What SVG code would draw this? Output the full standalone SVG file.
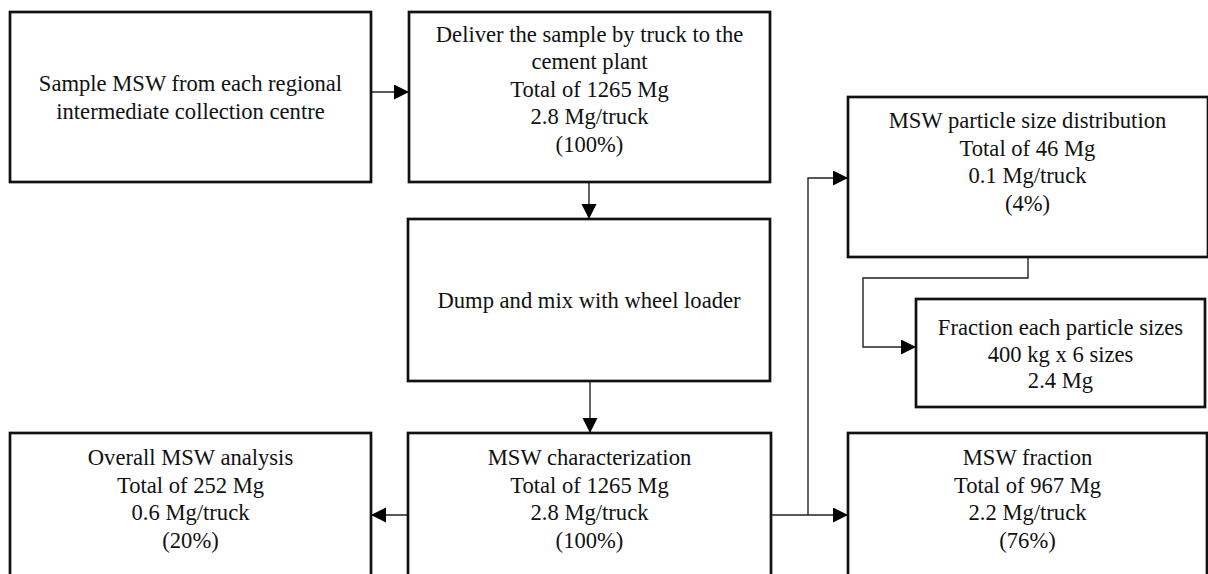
<svg xmlns="http://www.w3.org/2000/svg" width="1208" height="574" viewBox="0 0 1208 574">
<style>
.box{fill:#fff;stroke:#111;stroke-width:2.7}
.t{font-family:"Liberation Serif","Times New Roman",serif;font-size:22.6px;fill:#111;text-anchor:middle}
.c{fill:none;stroke:#222;stroke-width:1.4}
</style>
<defs>
<marker id="ah" markerUnits="userSpaceOnUse" markerWidth="16" markerHeight="16" refX="15" refY="7.5" orient="auto">
<path d="M0,0 L15,7.5 L0,15 z" fill="#000"/>
</marker>
</defs>
<rect width="1208" height="574" fill="#fff"/>
<g id="connectors">
<line class="c" x1="371" y1="92" x2="409" y2="92" marker-end="url(#ah)"/>
<line class="c" x1="589" y1="182" x2="589" y2="219" marker-end="url(#ah)"/>
<line class="c" x1="590" y1="381" x2="590" y2="433" marker-end="url(#ah)"/>
<line class="c" x1="408" y1="515" x2="371" y2="515" marker-end="url(#ah)"/>
<line class="c" x1="771" y1="515" x2="848" y2="515" marker-end="url(#ah)"/>
<polyline class="c" points="808,515 808,178 848,178" marker-end="url(#ah)"/>
<polyline class="c" points="1028,257 1028,278 863,278 863,347 916,347" marker-end="url(#ah)"/>
</g>
<g id="n1">
<rect class="box" x="10" y="12" width="361" height="170"/>
<text class="t" x="190.5" y="91">Sample MSW from each regional</text>
<text class="t" x="190.5" y="118.5">intermediate collection centre</text>
</g>
<g id="n2">
<rect class="box" x="409" y="12" width="361" height="170"/>
<text class="t" x="589.5" y="41.5">Deliver the sample by truck to the</text>
<text class="t" x="589.5" y="69">cement plant</text>
<text class="t" x="589.5" y="96.5">Total of 1265 Mg</text>
<text class="t" x="589.5" y="124">2.8 Mg/truck</text>
<text class="t" x="589.5" y="151.5">(100%)</text>
</g>
<g id="n3">
<rect class="box" x="408" y="219" width="362" height="162"/>
<text class="t" x="589" y="308">Dump and mix with wheel loader</text>
</g>
<g id="n4">
<rect class="box" x="408" y="433" width="363" height="160"/>
<text class="t" x="589.5" y="465">MSW characterization</text>
<text class="t" x="589.5" y="492.5">Total of 1265 Mg</text>
<text class="t" x="589.5" y="520">2.8 Mg/truck</text>
<text class="t" x="589.5" y="547.5">(100%)</text>
</g>
<g id="n5">
<rect class="box" x="10" y="433" width="361" height="160"/>
<text class="t" x="190.5" y="465">Overall MSW analysis</text>
<text class="t" x="190.5" y="492.5">Total of 252 Mg</text>
<text class="t" x="190.5" y="520">0.6 Mg/truck</text>
<text class="t" x="190.5" y="547.5">(20%)</text>
</g>
<g id="n6">
<rect class="box" x="848" y="433" width="359" height="160"/>
<text class="t" x="1027.5" y="465">MSW fraction</text>
<text class="t" x="1027.5" y="492.5">Total of 967 Mg</text>
<text class="t" x="1027.5" y="520">2.2 Mg/truck</text>
<text class="t" x="1027.5" y="547.5">(76%)</text>
</g>
<g id="n7">
<rect class="box" x="848" y="97" width="360" height="160"/>
<text class="t" x="1027.5" y="128">MSW particle size distribution</text>
<text class="t" x="1027.5" y="155.5">Total of 46 Mg</text>
<text class="t" x="1027.5" y="183">0.1 Mg/truck</text>
<text class="t" x="1027.5" y="210.5">(4%)</text>
</g>
<g id="n8">
<rect class="box" x="916" y="299" width="289" height="108"/>
<text class="t" x="1060.5" y="335">Fraction each particle sizes</text>
<text class="t" x="1060.5" y="361.5">400 kg x 6 sizes</text>
<text class="t" x="1060.5" y="388">2.4 Mg</text>
</g>
</svg>
